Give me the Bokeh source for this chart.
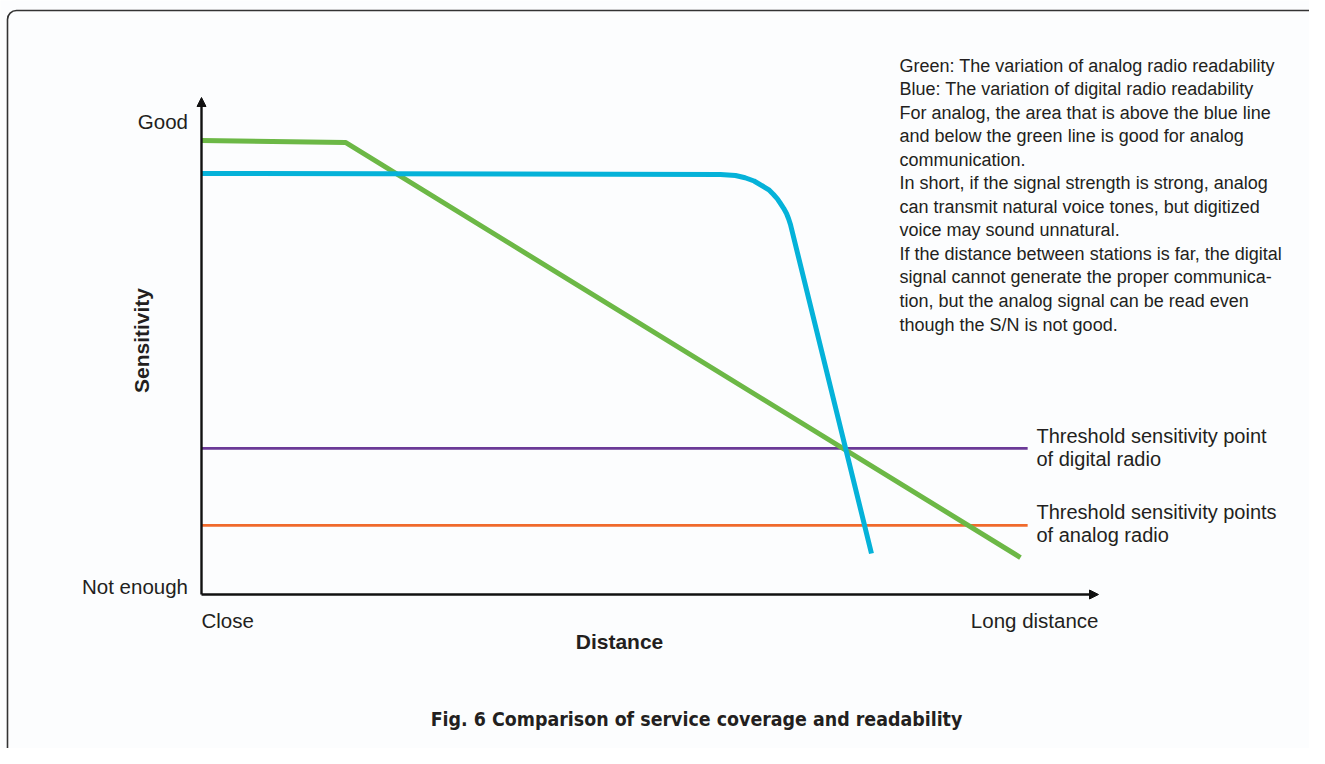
from bokeh.plotting import figure
from bokeh.models import Range1d, Arrow, NormalHead
from bokeh.core.properties import value
from bokeh.embed import file_html
from bokeh.resources import INLINE

# ---------------- data (distance 0..100, sensitivity 0..100) ----------------
analog_x = [0.0, 16.05, 91.30]
analog_y = [91.35, 90.95, 7.44]

digital_x = [0.0, 57.86, 59.53, 60.60, 61.60, 62.65, 63.30, 63.77, 64.20, 64.55,
             64.90, 65.22, 65.45, 65.66, 74.69]
digital_y = [84.71, 84.51, 84.31, 83.85, 83.20, 82.09, 81.35, 80.48, 79.60, 78.67,
             77.70, 76.66, 75.60, 74.45, 8.25]

threshold_digital = 29.4
threshold_analog = 13.9
threshold_end = 92.1

y_tick_labels = ["Good", "Not enough"]
x_tick_labels = ["Close", "Long distance"]
x_title = "Distance"
y_title = "Sensitivity"
title = "Fig. 6 Comparison of service coverage and readability"
threshold_labels = [["Threshold sensitivity point", "of digital radio"],
                    ["Threshold sensitivity points", "of analog radio"]]
note_lines = [
    "Green: The variation of analog radio readability",
    "Blue: The variation of digital radio readability",
    "For analog, the area that is above the blue line",
    "and below the green line is good for analog",
    "communication.",
    "In short, if the signal strength is strong, analog",
    "can transmit natural voice tones, but digitized",
    "voice may sound unnatural.",
    "If the distance between stations is far, the digital",
    "signal cannot generate the proper communica-",
    "tion, but the analog signal can be read even",
    "though the S/N is not good.",
]

# ---------------- layout ----------------
W, H = 1309, 748
OX, OY = 201, 594          # px of the origin
SX, SY = 8.97, 4.97        # px per data unit

def X(px):
    return (px - OX) / SX

def Y(py):
    return (OY - py) / SY

p = figure(width=W, height=H, output_backend="svg", toolbar_location=None,
           x_range=Range1d(X(0), X(W)), y_range=Range1d(Y(H), Y(0)),
           min_border=0)
p.axis.visible = False
p.grid.visible = False
p.outline_line_color = None
p.background_fill_color = "#fcfdfe"
p.border_fill_color = "#fcfdfe"

# outer rounded frame
p.quad(left=[X(7)], right=[X(1500)], top=[Y(10)], bottom=[Y(900)],
       fill_color=None, line_color="#333333", line_width=1.6, border_radius=9)

TXT = "#231f20"
FONT = value("Liberation Sans")

# threshold lines
p.line([0, threshold_end], [threshold_digital] * 2, line_color="#6b3a97", line_width=2.6)
p.line([0, threshold_end], [threshold_analog] * 2, line_color="#f06a2c", line_width=2.6)

# curves
p.line(analog_x, analog_y, line_color="#6cb846", line_width=5, line_join="round")
p.line(digital_x, digital_y, line_color="#05b2d9", line_width=5, line_join="round")

# axes with arrows
head = dict(size=9, fill_color="#111111", line_color="#111111")
p.add_layout(Arrow(end=NormalHead(**head), x_start=0, y_start=0, x_end=0, y_end=100,
                   line_color="#111111", line_width=2.4))
p.add_layout(Arrow(end=NormalHead(**head), x_start=0, y_start=0, x_end=100, y_end=0,
                   line_color="#111111", line_width=2.4))

def txt(x, y, s, size, align="left", bold=False, angle=0, font=FONT, color=TXT):
    p.text(x=[x], y=[y], text=[s], text_font=font, text_font_size=size,
           text_align=align, text_baseline="middle", text_color=color,
           text_font_style="bold" if bold else "normal", angle=angle)

# axis labels
txt(X(187.5), Y(121), y_tick_labels[0], "20.5px", align="right")
txt(X(187.5), Y(586), y_tick_labels[1], "20.5px", align="right")
txt(X(201), Y(620), x_tick_labels[0], "20.5px")
txt(X(1098), Y(620), x_tick_labels[1], "20.5px", align="right")
txt(X(619), Y(641), x_title, "21px", align="center", bold=True)
txt(X(141), Y(340), y_title, "21px", align="center", bold=True, angle=1.5708)

# threshold labels
for lines, py in zip(threshold_labels, [435, 511]):
    for i, s in enumerate(lines):
        txt(X(1036), Y(py + 23.5 * i), s, "20px")

# notes
for i, s in enumerate(note_lines):
    txt(X(899), Y(65 + 23.55 * i), s, "18px")

# title
txt(X(696), Y(719), title, "19.4px", align="center", bold=True,
    font=value("'Liberation Sans Narrow', 'DejaVu Sans Condensed', sans-serif"))

open("out.html", "w").write(file_html(p, INLINE))
